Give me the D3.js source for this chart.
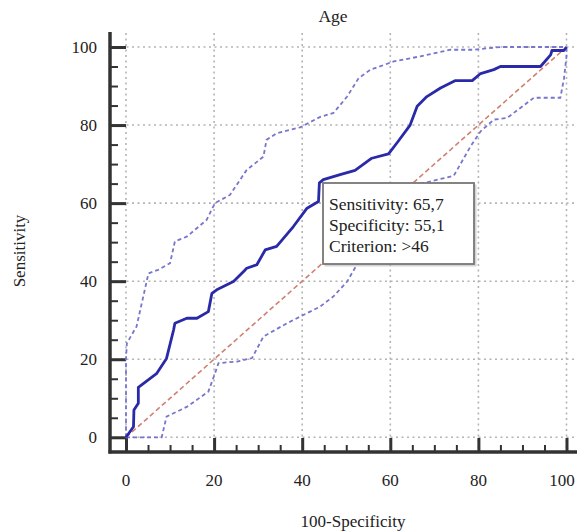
<!DOCTYPE html>
<html>
<head>
<meta charset="utf-8">
<script src="https://cdn.jsdelivr.net/npm/d3@7"></script>
<style>
  body { margin: 0; background: #fff; }
  svg text { font-family: "Liberation Serif", "DejaVu Serif", serif; fill: #222; }
</style>
</head>
<body>
<div id="chart"></div>
<script>
// ROC curve: [100-Specificity, Sensitivity]
const rocCurve = [
  [0, 0], [1.7, 2.7], [1.8, 7], [2.8, 8.7], [2.8, 12.8], [7, 16.4], [9.2, 20.2],
  [10.8, 27.5], [11.1, 29.2], [13.8, 30.5], [16.1, 30.5], [18.7, 32.2], [19.5, 36.9],
  [20.6, 37.8], [24.4, 39.9], [26.7, 42.5], [27.4, 43.3], [29.7, 44.2], [31.6, 48],
  [34.2, 48.9], [38, 54], [41.1, 58.7], [43.7, 60.4], [43.9, 65.2], [44.8, 66],
  [48.6, 67.3], [52, 68.4], [55.8, 71.5], [59.6, 72.6], [61.5, 75.4], [64.5, 80],
  [66.1, 84.8], [68.3, 87.3], [71.4, 89.5], [74.8, 91.4], [78.6, 91.4], [80.5, 93.2],
  [83.5, 94.2], [85, 95], [94.1, 95], [96.4, 98], [96.7, 99.1], [99.4, 99.1], [100, 100]
];
const upperCI = [
  [0, 0], [0, 20], [0.2, 24.1], [2.4, 28.4], [5.1, 42], [7.3, 42.9], [10, 44.6],
  [11.1, 50.2], [13.8, 51.4], [18.3, 55.7], [20.2, 60], [23.6, 62.1], [27.4, 68.5],
  [31.2, 71.9], [31.9, 76.2], [34.2, 77.9], [39.5, 79.4], [44.1, 82.1], [47.1, 83.1],
  [50.2, 87.3], [52.8, 92], [55.5, 94.2], [60.8, 96.3], [66.8, 97.6], [73.6, 99.3],
  [78.9, 99.3], [85, 100], [100, 100]
];
const lowerCI = [
  [0, 0], [8.1, 0], [9.2, 5.3], [13.8, 7.8], [18.7, 11.7], [20.2, 16.4], [21, 19],
  [25.2, 19.4], [28.6, 20.3], [31.2, 25.8], [36.5, 29.2], [41.1, 31.8], [44.1, 33.5],
  [47.1, 36.1], [50.2, 39.9], [52.4, 44.2], [59.2, 55.7], [64.5, 64.3], [74.4, 67],
  [78.2, 74.5], [80.5, 78.4], [83.5, 81.4], [86.5, 81.8], [88, 83.1], [92.6, 87],
  [98.6, 87], [99.4, 91.7], [100, 97.6], [100, 100]
];
const diagonal = [[0, 0], [100, 100]];
const majorTicks = [0, 20, 40, 60, 80, 100];
const minorTicks = d3.range(0, 101, 5);
const criterionLines = ['Sensitivity: 65,7', 'Specificity: 55,1', 'Criterion: >46'];

const outerWidth = 577;
const outerHeight = 532;

const svg = d3.select('#chart').append('svg')
    .attr('width', outerWidth)
    .attr('height', outerHeight);

// Init Scales
const x = d3.scaleLinear().domain([0, 100]).range([126, 566.5]);
const y = d3.scaleLinear().domain([0, 100]).range([437.3, 47]);

const axisLeftX = 110;
const axisBottomY = 452;

// Grid (dotted)
const grid = svg.append('g')
    .attr('stroke', '#b4b4b4')
    .attr('stroke-width', 1.6)
    .attr('stroke-dasharray', '2,3.5');
grid.selectAll('.vgrid').data(majorTicks).join('line')
    .attr('x1', d => x(d)).attr('x2', d => x(d))
    .attr('y1', 33).attr('y2', axisBottomY);
grid.selectAll('.hgrid').data(majorTicks).join('line')
    .attr('x1', axisLeftX).attr('x2', outerWidth)
    .attr('y1', d => y(d)).attr('y2', d => y(d));

// Axes
const yAxis = d3.axisRight(y).tickValues(minorTicks).tickFormat('')
    .tickSize(8).tickSizeOuter(0);
const gy = svg.append('g')
    .attr('transform', `translate(${axisLeftX}, 0)`)
    .call(yAxis);
gy.select('.domain').remove();
gy.selectAll('.tick line')
    .attr('x2', d => d % 20 === 0 ? 16 : 8)
    .attr('stroke', '#333')
    .attr('stroke-width', d => d % 20 === 0 ? 3 : 2);

const xAxis = d3.axisTop(x).tickValues(minorTicks).tickFormat('')
    .tickSize(7).tickSizeOuter(0);
const gx = svg.append('g')
    .attr('transform', `translate(0, ${axisBottomY})`)
    .call(xAxis);
gx.select('.domain').remove();
gx.selectAll('.tick line')
    .attr('y2', d => d % 20 === 0 ? -14 : -7)
    .attr('stroke', '#333')
    .attr('stroke-width', d => d % 20 === 0 ? 3 : 2);

// axis lines
svg.append('line')
    .attr('x1', axisLeftX).attr('x2', axisLeftX)
    .attr('y1', 32).attr('y2', axisBottomY + 1.5)
    .attr('stroke', '#333').attr('stroke-width', 3.5);
svg.append('line')
    .attr('x1', axisLeftX - 1.5).attr('x2', outerWidth)
    .attr('y1', axisBottomY).attr('y2', axisBottomY)
    .attr('stroke', '#333').attr('stroke-width', 3.5);

// Tick labels
svg.selectAll('.ylab').data(majorTicks).join('text')
    .attr('x', 97)
    .attr('y', d => y(d) + 6)
    .attr('text-anchor', 'end')
    .attr('font-size', 17)
    .text(d => d);
svg.selectAll('.xlab').data(majorTicks).join('text')
    .attr('x', d => d === 100 ? Math.min(x(d), outerWidth - 15) : x(d))
    .attr('y', 486)
    .attr('text-anchor', 'middle')
    .attr('font-size', 17)
    .text(d => d);

// Titles
svg.append('text')
    .attr('x', 333).attr('y', 22)
    .attr('text-anchor', 'middle')
    .attr('font-size', 17.5)
    .text('Age');
svg.append('text')
    .attr('x', 353).attr('y', 527)
    .attr('text-anchor', 'middle')
    .attr('font-size', 17)
    .text('100-Specificity');
svg.append('text')
    .attr('transform', 'translate(25, 251) rotate(-90)')
    .attr('text-anchor', 'middle')
    .attr('font-size', 17)
    .text('Sensitivity');

// Lines
const line = d3.line().x(d => x(d[0])).y(d => y(d[1]));

svg.append('path')
    .datum(diagonal)
    .attr('d', line)
    .attr('fill', 'none')
    .attr('stroke', '#d0806e')
    .attr('stroke-width', 1.6)
    .attr('stroke-dasharray', '5,3');

[upperCI, lowerCI].forEach(ci => {
    svg.append('path')
        .datum(ci)
        .attr('d', line)
        .attr('fill', 'none')
        .attr('stroke', '#7676cc')
        .attr('stroke-width', 1.8)
        .attr('stroke-dasharray', '4,3');
});

svg.append('path')
    .datum(rocCurve)
    .attr('d', line)
    .attr('fill', 'none')
    .attr('stroke', '#2a2aa8')
    .attr('stroke-width', 2.8)
    .attr('stroke-linejoin', 'round');

// Criterion box
const box = svg.append('g');
box.append('rect')
    .attr('x', 324.5).attr('y', 184.5)
    .attr('width', 152).attr('height', 82)
    .attr('fill', '#aaa').attr('opacity', 0.5);
box.append('rect')
    .attr('x', 323).attr('y', 183)
    .attr('width', 151).attr('height', 81)
    .attr('fill', '#fff')
    .attr('stroke', '#777')
    .attr('stroke-width', 1.8);
box.selectAll('text').data(criterionLines).join('text')
    .attr('x', 329)
    .attr('y', (d, i) => 209.5 + i * 21.3)
    .attr('font-size', 17.5)
    .text(d => d);
</script>
</body>
</html>
